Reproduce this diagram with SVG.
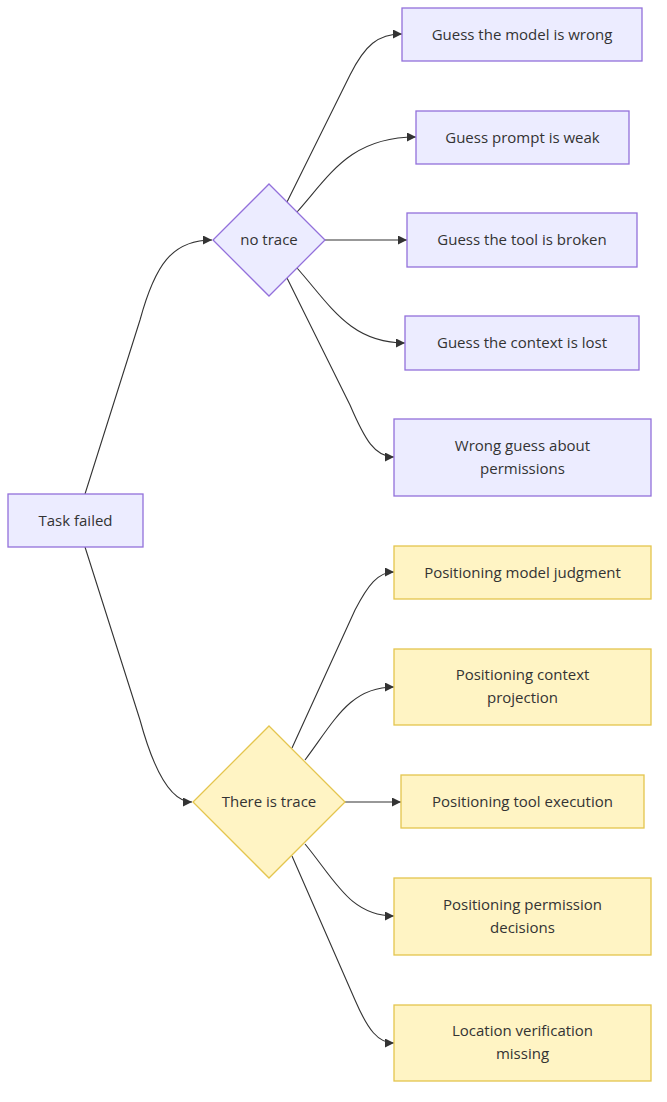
<svg xmlns="http://www.w3.org/2000/svg" width="667" height="1102" viewBox="0 0 667 1102">
<style>
.p{fill:#ECECFF;stroke:#9370DB;stroke-width:1.3}
.y{fill:#FFF4C4;stroke:#E4C54E;stroke-width:1.3}
.t{font-family:"Open Sans","DejaVu Sans",sans-serif;font-size:15px;fill:#333;text-anchor:middle;dominant-baseline:central}
.e{fill:none;stroke:#333;stroke-width:1.1}
</style>
<defs>
<marker id="a" viewBox="0 0 10 10" refX="10" refY="5" markerWidth="9" markerHeight="9" markerUnits="userSpaceOnUse" orient="auto">
<path d="M0,0 L10,5 L0,10 z" fill="#333"/>
</marker>
</defs>
<rect width="667" height="1102" fill="#fff"/>
<g id="edges">
<path class="e" marker-end="url(#a)" d="M85,494 L140,320 C155,265 172,240 212,240"/>
<path class="e" marker-end="url(#a)" d="M85,547 L140,720 C155,775 172,802 192,802"/>
<path class="e" marker-end="url(#a)" d="M287,202 L350,75 C365,45 378,34 402,34"/>
<path class="e" marker-end="url(#a)" d="M297,212 C330,175 350,137 416,137"/>
<path class="e" marker-end="url(#a)" d="M325,240 L407,240"/>
<path class="e" marker-end="url(#a)" d="M297,268 C330,305 350,343 405,343"/>
<path class="e" marker-end="url(#a)" d="M287,278 L350,405 C365,440 375,457 394,457"/>
<path class="e" marker-end="url(#a)" d="M292,748 L355,610 C368,585 378,572 394,572"/>
<path class="e" marker-end="url(#a)" d="M305,760 C335,720 350,687 394,687"/>
<path class="e" marker-end="url(#a)" d="M345,802 L401,802"/>
<path class="e" marker-end="url(#a)" d="M305,844 C335,880 350,916 394,916"/>
<path class="e" marker-end="url(#a)" d="M292,856 L355,1000 C368,1030 378,1043 394,1043"/>
</g>
<g id="task"><rect class="p" x="8" y="494" width="135" height="53"/><text class="t" x="75.5" y="519.5">Task failed</text></g>
<g id="notrace"><polygon class="p" points="269,184 325,240 269,296 213,240"/><text class="t" x="269" y="239">no trace</text></g>
<g id="trace"><polygon class="y" points="269,726 345,802 269,878 193,802"/><text class="t" x="269" y="801">There is trace</text></g>
<g id="g1"><rect class="p" x="402" y="8" width="240" height="53"/><text class="t" x="522" y="33.5">Guess the model is wrong</text></g>
<g id="g2"><rect class="p" x="416" y="111" width="213" height="53"/><text class="t" x="522.5" y="136.5">Guess prompt is weak</text></g>
<g id="g3"><rect class="p" x="407" y="213" width="230" height="54"/><text class="t" x="522" y="239">Guess the tool is broken</text></g>
<g id="g4"><rect class="p" x="405" y="316" width="234" height="54"/><text class="t" x="522" y="342">Guess the context is lost</text></g>
<g id="g5"><rect class="p" x="394" y="419" width="257" height="77"/><text class="t" x="522.5" y="445">Wrong guess about</text><text class="t" x="522.5" y="468">permissions</text></g>
<g id="y1"><rect class="y" x="394" y="546" width="257" height="53"/><text class="t" x="522.5" y="571.5">Positioning model judgment</text></g>
<g id="y2"><rect class="y" x="394" y="649" width="257" height="76"/><text class="t" x="522.5" y="674">Positioning context</text><text class="t" x="522.5" y="697">projection</text></g>
<g id="y3"><rect class="y" x="401" y="775" width="243" height="53"/><text class="t" x="522.5" y="800.5">Positioning tool execution</text></g>
<g id="y4"><rect class="y" x="394" y="878" width="257" height="77"/><text class="t" x="522.5" y="904">Positioning permission</text><text class="t" x="522.5" y="927">decisions</text></g>
<g id="y5"><rect class="y" x="394" y="1005" width="257" height="76"/><text class="t" x="522.5" y="1030">Location verification</text><text class="t" x="522.5" y="1053">missing</text></g>
</svg>
